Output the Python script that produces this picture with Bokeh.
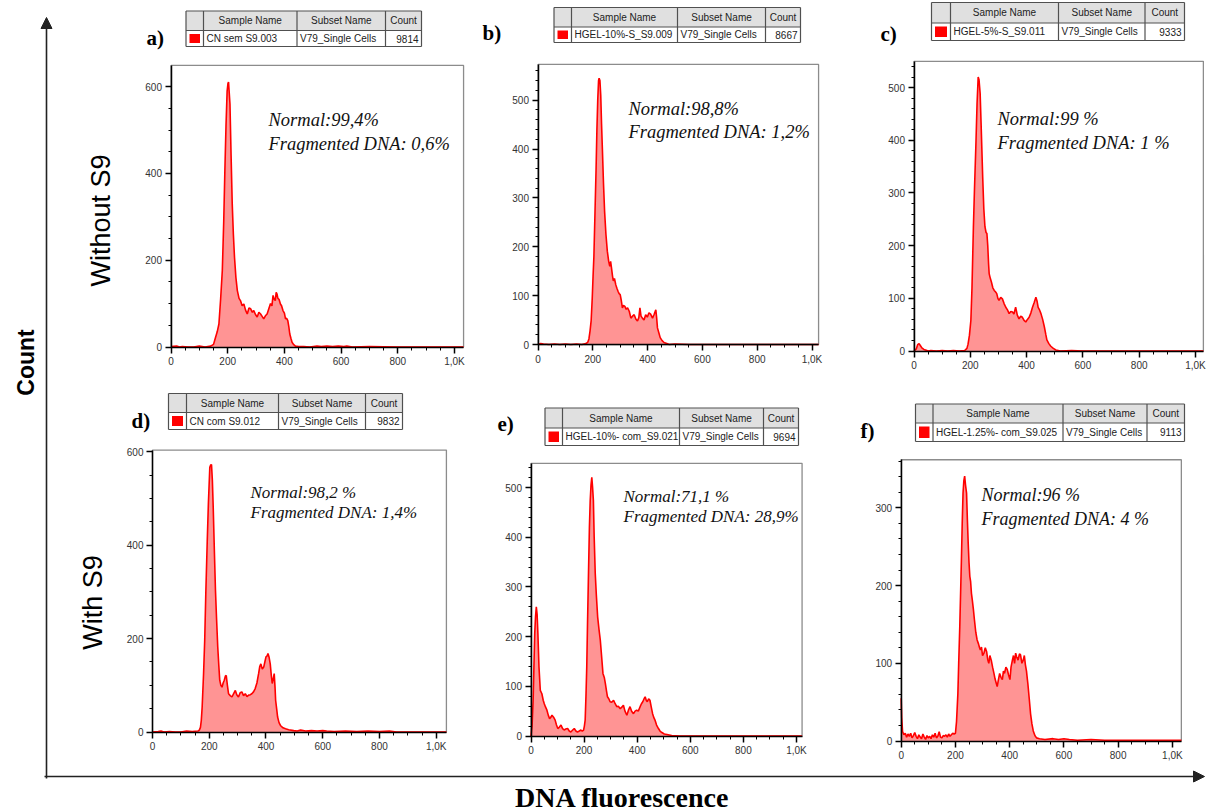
import numpy as np
from bokeh.plotting import figure
from bokeh.models import Range1d, LinearAxis, SingleIntervalTicker, Arrow, NormalHead
from bokeh.core.properties import value
from bokeh.embed import file_html
from bokeh.resources import INLINE

# ---------------- data ----------------
a_x = [0, 20, 30, 40, 60, 80, 100, 120, 140, 150, 157, 163, 169, 175, 181, 186, 190, 194, 198, 201, 203, 205, 208, 212, 216, 220, 224, 229, 234, 240, 245, 251, 257, 263, 269, 275, 281, 287, 292, 298, 304, 310, 316, 322, 327, 333, 339, 345, 351, 356, 360, 364, 368, 371, 374, 377, 381, 386, 390, 395, 400, 404, 408, 412, 416, 419, 423, 427, 432, 439, 450, 468, 490, 515, 530, 550, 570, 590, 610, 620, 640, 700, 800, 900, 1032]
a_y = [1, 2, 0, 1, 0, 0, 2, 0, 2, 6, 22, 35, 53, 110, 176, 290, 406, 510, 590, 608, 611, 590, 560, 440, 330, 260, 207, 160, 130, 112, 107, 95, 99, 85, 76, 90, 88, 80, 84, 75, 69, 80, 76, 70, 65, 72, 76, 88, 100, 95, 119, 110, 107, 126, 122, 112, 110, 99, 95, 84, 78, 65, 66, 61, 45, 30, 20, 11, 6, 2, 1, 1, 0, 2, 1, 2, 1, 2, 1, 2, 0, 1, 0, 0, 0]

b_x = [0, 10, 20, 40, 60, 80, 100, 120, 140, 160, 175, 182, 186, 190, 194, 198, 201, 204, 208, 212, 215, 218, 221, 223, 226, 229, 232, 235, 239, 243, 248, 253, 258, 262, 265, 268, 272, 275, 279, 284, 288, 292, 296, 300, 304, 308, 312, 317, 322, 327, 333, 339, 345, 351, 357, 363, 368, 372, 376, 381, 387, 393, 399, 405, 411, 418, 424, 430, 433, 436, 441, 446, 453, 460, 470, 479, 500, 550, 600, 700, 800, 1024]
b_y = [0, 2, 1, 0, 1, 0, 1, 0, 1, 0, 2, 5, 12, 28, 49, 95, 140, 180, 270, 360, 440, 500, 540, 545, 540, 510, 450, 400, 330, 273, 225, 191, 170, 160, 170, 158, 140, 130, 135, 122, 115, 109, 104, 102, 90, 75, 80, 78, 72, 75, 68, 54, 58, 61, 52, 48, 55, 75, 58, 54, 50, 61, 56, 65, 62, 54, 62, 71, 55, 34, 24, 14, 8, 4, 2, 0, 1, 0, 0, 0, 0, 0]

c_x = [0, 8, 13, 18, 23, 28, 35, 41, 50, 60, 80, 100, 120, 140, 160, 180, 188, 192, 197, 202, 206, 211, 215, 220, 224, 228, 231, 235, 239, 244, 248, 252, 256, 259, 262, 265, 267, 271, 275, 280, 285, 290, 294, 298, 302, 308, 314, 320, 326, 332, 338, 344, 350, 355, 361, 367, 373, 379, 385, 391, 397, 403, 409, 415, 421, 427, 433, 437, 441, 446, 451, 457, 463, 468, 472, 479, 486, 495, 504, 520, 560, 600, 700, 800, 1028]
c_y = [0, 4, 12, 14, 10, 6, 3, 2, 0, 1, 0, 1, 0, 1, 0, 1, 5, 13, 30, 58, 120, 235, 310, 394, 470, 520, 515, 489, 420, 331, 270, 236, 225, 223, 200, 165, 147, 138, 131, 120, 115, 112, 109, 100, 96, 102, 99, 90, 83, 78, 71, 75, 74, 70, 83, 68, 61, 66, 64, 58, 55, 60, 64, 72, 83, 92, 102, 95, 83, 78, 71, 60, 46, 32, 21, 14, 9, 5, 2, 0, 1, 0, 0, 0, 0]

d_x = [0, 20, 30, 40, 60, 80, 100, 120, 140, 160, 165, 169, 172, 175, 180, 184, 188, 193, 197, 202, 205, 208, 211, 214, 218, 222, 226, 230, 234, 237, 241, 245, 249, 253, 257, 260, 264, 268, 274, 280, 286, 292, 297, 303, 309, 315, 321, 327, 333, 339, 345, 350, 356, 362, 368, 374, 378, 382, 387, 392, 396, 400, 404, 407, 411, 415, 419, 422, 426, 429, 432, 434, 438, 441, 446, 451, 460, 469, 480, 498, 510, 522, 540, 560, 580, 600, 614, 640, 680, 720, 760, 800, 835, 860, 900, 1036]
d_y = [0, 1, 2, 0, 1, 0, 0, 2, 1, 2, 4, 10, 25, 53, 125, 196, 300, 410, 490, 567, 572, 573, 540, 482, 390, 303, 240, 182, 140, 111, 100, 96, 105, 111, 120, 121, 100, 82, 78, 75, 82, 89, 80, 75, 84, 86, 78, 82, 76, 79, 80, 82, 86, 93, 105, 125, 140, 146, 135, 139, 150, 161, 163, 168, 160, 146, 120, 104, 115, 125, 95, 68, 48, 32, 20, 14, 9, 7, 5, 3, 2, 4, 2, 3, 2, 3, 2, 1, 2, 1, 2, 1, 2, 0, 0, 0]

e_x = [0, 4, 8, 11, 14, 17, 20, 23, 26, 30, 35, 41, 46, 50, 55, 60, 65, 70, 75, 79, 85, 91, 96, 101, 107, 113, 119, 125, 131, 138, 144, 150, 157, 163, 169, 175, 182, 188, 193, 198, 201, 204, 207, 210, 213, 217, 220, 223, 226, 229, 232, 235, 238, 242, 246, 251, 256, 261, 266, 271, 276, 280, 284, 288, 293, 298, 304, 311, 317, 323, 329, 336, 342, 348, 354, 361, 367, 373, 379, 386, 392, 398, 404, 411, 416, 421, 426, 430, 434, 438, 443, 448, 453, 458, 462, 467, 473, 480, 486, 493, 502, 512, 530, 560, 600, 700, 800, 1021]
e_y = [0, 20, 71, 140, 206, 240, 260, 245, 206, 140, 92, 85, 72, 65, 58, 52, 42, 35, 38, 42, 38, 32, 22, 15, 18, 22, 15, 12, 14, 15, 10, 8, 12, 15, 10, 8, 10, 12, 10, 12, 20, 32, 80, 139, 230, 340, 420, 474, 505, 521, 500, 474, 400, 327, 285, 240, 215, 193, 160, 126, 118, 106, 92, 79, 75, 69, 68, 72, 65, 59, 60, 55, 58, 62, 50, 42, 52, 59, 50, 45, 50, 52, 50, 59, 65, 69, 75, 79, 72, 69, 75, 72, 58, 45, 38, 32, 22, 15, 10, 7, 4, 3, 1, 0, 0, 0, 0, 0]

f_x = [0, 2, 5, 10, 15, 20, 25, 30, 35, 40, 45, 50, 55, 60, 65, 70, 75, 80, 85, 90, 95, 100, 105, 110, 115, 120, 125, 130, 135, 140, 145, 150, 155, 160, 165, 170, 175, 180, 185, 190, 195, 200, 204, 209, 212, 216, 219, 222, 225, 228, 231, 234, 237, 241, 244, 247, 250, 253, 256, 259, 262, 266, 270, 275, 280, 285, 289, 292, 296, 300, 305, 310, 315, 319, 323, 327, 332, 337, 342, 346, 350, 354, 358, 363, 368, 373, 377, 381, 386, 391, 396, 401, 405, 410, 414, 418, 422, 426, 431, 436, 440, 445, 450, 454, 458, 462, 465, 467, 472, 477, 482, 487, 493, 499, 510, 530, 560, 580, 600, 620, 650, 700, 750, 800, 900, 1000, 1033]
f_y = [55, 30, 12, 8, 10, 5, 9, 6, 10, 4, 7, 11, 6, 3, 8, 5, 3, 9, 5, 2, 7, 4, 6, 3, 8, 5, 10, 4, 6, 12, 5, 4, 7, 6, 8, 5, 9, 6, 8, 10, 9, 10, 25, 61, 100, 147, 190, 233, 280, 319, 335, 341, 330, 319, 285, 255, 230, 212, 205, 190, 182, 170, 156, 140, 130, 125, 120, 117, 121, 110, 113, 120, 115, 105, 100, 110, 104, 95, 87, 80, 75, 70, 78, 87, 82, 79, 90, 87, 95, 92, 85, 79, 95, 104, 110, 100, 113, 108, 104, 112, 111, 100, 104, 110, 98, 90, 80, 74, 55, 35, 22, 13, 7, 4, 3, 2, 3, 2, 3, 2, 1, 2, 1, 1, 1, 1, 1]

panel_keys = ["a", "b", "c", "d", "e", "f"]
panel_letters = ["a)", "b)", "c)", "d)", "e)", "f)"]
sample_names = ["CN sem S9.003", "HGEL-10%-S_S9.009", "HGEL-5%-S_S9.011",
                "CN com S9.012", "HGEL-10%- com_S9.021", "HGEL-1.25%- com_S9.025"]
subset_names = ["V79_Single Cells"] * 6
event_counts = ["9814", "8667", "9333", "9832", "9694", "9113"]
normal_labels = ["Normal:99,4%", "Normal:98,8%", "Normal:99 %",
                 "Normal:98,2 %", "Normal:71,1 %", "Normal:96 %"]
frag_labels = ["Fragmented DNA: 0,6%", "Fragmented DNA: 1,2%", "Fragmented DNA: 1 %",
               "Fragmented DNA: 1,4%", "Fragmented DNA: 28,9%", "Fragmented DNA: 4 %"]
table_headers = ["Sample Name", "Subset Name", "Count"]
x_tick_step = 200
x_tick_overrides = {1000: "1,0K"}
y_tick_steps = [200, 100, 100, 200, 100, 100]
row_labels = ["Without S9", "With S9"]
y_title = "Count"
x_title = "DNA fluorescence"

series_x = [a_x, b_x, c_x, d_x, e_x, f_x]
series_y = [a_y, b_y, c_y, d_y, e_y, f_y]

# ---------------- layout (screen pixels) ----------------
W, H = 1210, 812
geom = [
    dict(x0=170.5, y0=346.5, kx=0.2835, ky=0.4338, xmax=1032, ymax=649),
    dict(x0=537.5, y0=344.0, kx=0.2740, ky=0.4887, xmax=1024, ymax=573),
    dict(x0=913.5, y0=350.5, kx=0.2815, ky=0.5267, xmax=1028, ymax=550),
    dict(x0=152.0, y0=731.5, kx=0.2837, ky=0.4667, xmax=1036, ymax=604),
    dict(x0=530.5, y0=735.5, kx=0.2655, ky=0.4967, xmax=1021, ymax=549),
    dict(x0=900.7, y0=740.5, kx=0.2712, ky=0.7770, xmax=1033, ymax=362),
]
tables = [
    dict(cols=[185.5, 203, 296.5, 385, 421], rows=[10.5, 30, 46]),
    dict(cols=[553.5, 571, 677, 765, 800], rows=[7, 26.5, 42]),
    dict(cols=[931, 950, 1058, 1144.5, 1184], rows=[2, 22.5, 40]),
    dict(cols=[168, 186, 278, 365, 402], rows=[393, 412, 429]),
    dict(cols=[544.5, 562, 679, 763, 798], rows=[407.5, 427.5, 445]),
    dict(cols=[915, 932.5, 1062.5, 1146.5, 1184], rows=[403.5, 422.5, 441]),
]
# text centres
letter_pos = [(146, 37), (482, 32), (880, 33), (131, 420), (497, 423), (860, 430)]
annot_pos = [(268, 119, 143, 18.5), (628, 108, 131, 18.5), (997, 118, 142, 18.5),
             (250, 492, 512, 17), (623, 496, 516, 17), (981, 494, 518, 18)]

RED = "#ff0000"
FILL = "#ff9494"
TFONT = "10px"

p = figure(width=W, height=H, x_range=Range1d(0, W), y_range=Range1d(H, 0),
           x_axis_type=None, y_axis_type=None, min_border=0,
           toolbar_location=None, output_backend="svg",
           outline_line_color=None, background_fill_color="white",
           border_fill_color="white")

ex, ey = {}, {}
for k, g in zip(panel_keys, geom):
    xs = -g["x0"] / g["kx"]
    ex["x" + k] = Range1d(start=xs, end=xs + W / g["kx"])
    ys = (g["y0"] - H) / g["ky"]
    ey["y" + k] = Range1d(start=ys, end=ys + H / g["ky"])
p.extra_x_ranges = ex
p.extra_y_ranges = ey

for i, k in enumerate(panel_keys):
    g = geom[i]
    xn, yn = "x" + k, "y" + k
    p.quad(left=[0], right=[g["xmax"]], bottom=[0], top=[g["ymax"]],
           fill_color="white", line_color="#8c8c8c", line_width=1.3,
           x_range_name=xn, y_range_name=yn)
    p.varea(x=series_x[i], y1=0, y2=series_y[i], fill_color=FILL,
            x_range_name=xn, y_range_name=yn)
    p.line(series_x[i], series_y[i], line_color=RED, line_width=1.6,
           x_range_name=xn, y_range_name=yn)

    common = dict(x_range_name=xn, y_range_name=yn, fixed_location=0,
                  axis_line_color="black", axis_line_width=1.5,
                  major_tick_out=6, major_tick_in=0, minor_tick_out=3, minor_tick_in=0,
                  major_tick_line_width=1.5, minor_tick_line_width=1,
                  major_tick_line_color="black", minor_tick_line_color="black",
                  major_label_text_font="Liberation Sans",
                  major_label_text_font_size="10px",
                  major_label_text_color="#333333", major_label_standoff=3)
    xax = LinearAxis(bounds=(0, g["xmax"]),
                     ticker=SingleIntervalTicker(interval=x_tick_step, num_minor_ticks=4),
                     major_label_overrides=x_tick_overrides, **common)
    yax = LinearAxis(bounds=(0, g["ymax"]),
                     ticker=SingleIntervalTicker(interval=y_tick_steps[i],
                                                 num_minor_ticks=4 if y_tick_steps[i] == 200 else 5),
                     **common)
    p.add_layout(xax, "below")
    p.add_layout(yax, "left")

    # table
    t = tables[i]
    c, r = t["cols"], t["rows"]
    p.quad(left=[c[0]], right=[c[-1]], top=[r[0]], bottom=[r[1]], fill_color="#e0e0e0",
           line_color=None)
    p.quad(left=[c[0]], right=[c[-1]], top=[r[1]], bottom=[r[2]], fill_color="white",
           line_color=None)
    p.segment(x0=c, y0=[r[0]] * len(c), x1=c, y1=[r[2]] * len(c), line_color="#505050",
              line_width=1.2)
    p.segment(x0=[c[0]] * 3, y0=r, x1=[c[-1]] * 3, y1=r, line_color="#505050", line_width=1.2)
    p.quad(left=[c[0] + 3.5], right=[c[1] - 3.5], top=[r[1] + 3.5], bottom=[r[2] - 3.5],
           fill_color="#ff0000", line_color=None)
    hy = (r[0] + r[1]) / 2
    p.text(x=[(c[1] + c[2]) / 2, (c[2] + c[3]) / 2, (c[3] + c[4]) / 2], y=[hy] * 3,
           text=table_headers, text_font=value("Liberation Sans"), text_font_size=TFONT,
           text_align="center", text_baseline="middle", text_color="#222222")
    dy = (r[1] + r[2]) / 2
    p.text(x=[c[1] + 3, c[2] + 3], y=[dy, dy], text=[sample_names[i], subset_names[i]],
           text_font=value("Liberation Sans"), text_font_size=TFONT,
           text_align="left", text_baseline="middle", text_color="#222222")
    p.text(x=[c[4] - 3], y=[dy], text=[event_counts[i]],
           text_font=value("Liberation Sans"), text_font_size=TFONT,
           text_align="right", text_baseline="middle", text_color="#222222")

    lx, ly = letter_pos[i]
    p.text(x=[lx], y=[ly], text=[panel_letters[i]], text_font=value("Liberation Serif"),
           text_font_style="bold", text_font_size="21px", text_baseline="middle",
           text_color="black")
    ax_, b1, b2, fs = annot_pos[i]
    p.text(x=[ax_, ax_], y=[b1, b2], text=[normal_labels[i], frag_labels[i]],
           text_font=value("Liberation Serif"), text_font_style="italic",
           text_font_size=f"{fs}px", text_baseline="middle", text_color="#111111")

# big arrows
p.add_layout(Arrow(end=NormalHead(size=11, fill_color="#222222", line_color="#222222"),
                   x_start=46, y_start=778, x_end=46, y_end=17,
                   line_color="#222222", line_width=1.6))
p.add_layout(Arrow(end=NormalHead(size=11, fill_color="#222222", line_color="#222222"),
                   x_start=44, y_start=776, x_end=1204, y_end=776,
                   line_color="#222222", line_width=1.6))

p.text(x=[25], y=[362], text=[y_title], angle=np.pi / 2, text_font=value("Liberation Sans"),
       text_font_style="bold", text_font_size="23px", text_align="center",
       text_baseline="middle", text_color="black")
p.text(x=[100, 92], y=[220, 602], text=row_labels, angle=np.pi / 2,
       text_font=value("Liberation Sans"), text_font_size="27px", text_align="center",
       text_baseline="middle", text_color="black")
p.text(x=[622], y=[797], text=[x_title], text_font=value("Liberation Serif"),
       text_font_style="bold", text_font_size="28px", text_align="center",
       text_baseline="middle", text_color="black")

open("out.html", "w").write(file_html(p, INLINE))
